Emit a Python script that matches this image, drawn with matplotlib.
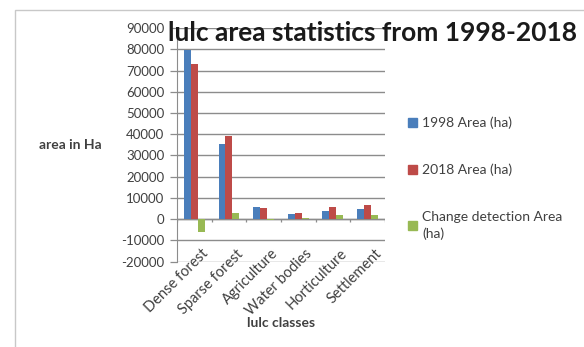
import matplotlib
matplotlib.use("Agg")
import matplotlib.pyplot as plt
import matplotlib.transforms as mtrans
from matplotlib.patches import Rectangle, Patch
import numpy as np

plt.rcParams['font.family'] = ['Lato', 'DejaVu Sans']

categories = ["Dense forest", "Sparse forest", "Agriculture", "Water bodies", "Horticulture", "Settlement"]
area_1998 = [79500, 35400, 5800, 2400, 3800, 4700]
area_2018 = [73200, 39000, 5200, 3000, 5800, 6600]
change = [-6000, 3100, -600, 600, 2100, 2000]
series_names = ["1998 Area (ha)", "2018 Area (ha)", "Change detection Area\n(ha)"]
colors = ["#4a7ebb", "#be4b48", "#98b954"]
yticks = list(range(-20000, 90001, 10000))

fig = plt.figure(figsize=(5.84, 3.47), dpi=100)
fig.patches.append(Rectangle((0.026, -0.1), 1.2, 1.071, transform=fig.transFigure,
                             fill=False, edgecolor="#c8c8c8", linewidth=1.0))
ax = fig.add_axes([0.303, 0.246, 0.356, 0.673])
x = np.arange(len(categories))
w = 0.2
for i, (vals, c) in enumerate(zip([area_1998, area_2018, change], colors)):
    ax.bar(x + (i - 1) * w, vals, w, color=c, zorder=3)

ax.set_ylim(-20000, 90000)
ax.set_xlim(-0.5, len(categories) - 0.5)
ax.set_yticks(yticks)
ax.set_yticklabels([str(v) for v in yticks], fontsize=9.5, color="#404040")
ax.yaxis.grid(True, color="#8c8c8c", linewidth=1.0, zorder=0)
ax.axhline(0, color="#8c8c8c", linewidth=1.0, zorder=2)
ax.vlines(np.arange(len(categories) + 1) - 0.5, -1500, 0, color="#8c8c8c", linewidth=0.9)
for s in ["top", "right", "bottom"]:
    ax.spines[s].set_visible(False)
ax.spines["left"].set_color("#8c8c8c")
ax.tick_params(axis="y", length=5, width=0.9, color="#8c8c8c", pad=4)
ax.tick_params(axis="x", length=0, pad=0)
ax.set_xticks(x)
ax.set_xticklabels(categories, rotation=45, ha="right", rotation_mode="anchor",
                   fontsize=10.5, color="#404040")
offset = mtrans.ScaledTranslation(7 / 100, 15 / 100, fig.dpi_scale_trans)
for lbl in ax.get_xticklabels():
    lbl.set_transform(lbl.get_transform() + offset)

fig.text(0.638, 0.905, "lulc area statistics from 1998-2018", ha="center", va="center",
         fontsize=19, fontweight="bold", color="#1a1a1a")
fig.text(0.12, 0.582, "area in Ha", ha="center", va="center", fontsize=10,
         fontweight="bold", color="#404040")
fig.text(0.481, 0.069, "lulc classes", ha="center", va="center", fontsize=10,
         fontweight="bold", color="#404040")

handles = [Patch(color=c) for c in colors]
leg = fig.legend(handles, series_names, loc="upper left", bbox_to_anchor=(0.699, 0.664),
                 frameon=False, fontsize=10, labelspacing=2.5, handlelength=0.6,
                 handleheight=0.6, handletextpad=0.4, labelcolor="#404040",
                 borderaxespad=0, borderpad=0)
for t in leg.get_texts():
    t.set_linespacing(1.45)

fig.savefig("out.png", dpi=100)
